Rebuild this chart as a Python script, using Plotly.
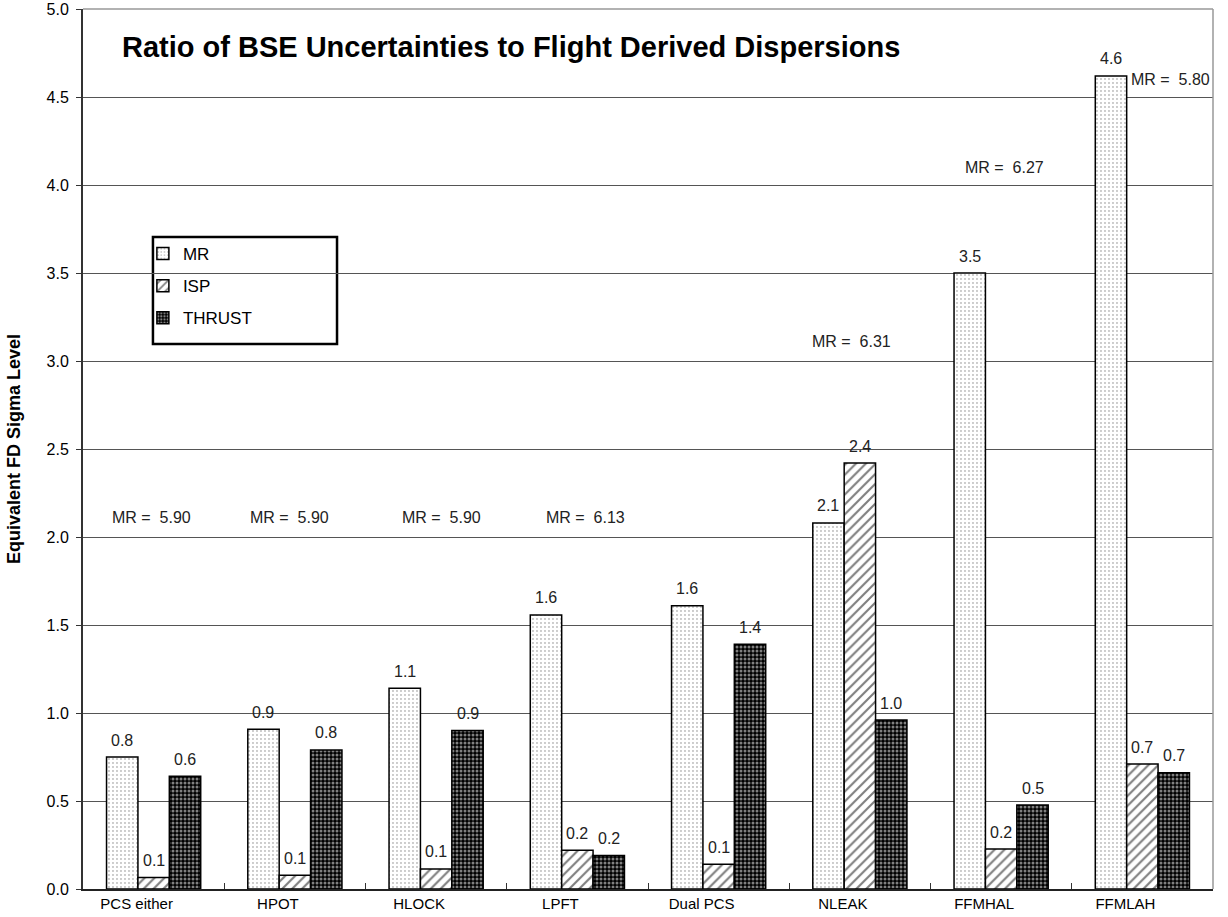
import plotly.graph_objects as go

categories = ["PCS either", "HPOT", "HLOCK", "LPFT", "Dual PCS", "NLEAK", "FFMHAL", "FFMLAH"]
mr_values = [0.75, 0.907, 1.14, 1.557, 1.61, 2.08, 3.5, 4.62]
isp_values = [0.065, 0.078, 0.114, 0.22, 0.14, 2.42, 0.227, 0.71]
thrust_values = [0.64, 0.79, 0.90, 0.19, 1.39, 0.96, 0.477, 0.66]
mr_notes = ["5.90", "5.90", "5.90", "6.13", None, "6.31", "6.27", "5.80"]

# styling / positioning (not data)
note_y = [2.11, 2.11, 2.11, 2.11, None, 3.11, 4.10, 4.60]
note_xshift = [-2, -5, 5, 8, 0, -8, 3, -13]
note_anchor = ["center"] * 7 + ["left"]
FONT = "Arial, Liberation Sans, sans-serif"

series = [
    ("MR", mr_values, dict(shape=".", fgcolor="#000000", bgcolor="#ffffff", size=4, solidity=0.1)),
    ("ISP", isp_values, dict(shape="/", fgcolor="#000000", bgcolor="#ffffff", size=7, solidity=0.3)),
    ("THRUST", thrust_values, dict(shape=".", fgcolor="#ffffff", bgcolor="#000000", size=4, solidity=0.45)),
]

fig = go.Figure()
for i, (name, vals, pat) in enumerate(series):
    fig.add_trace(go.Bar(
        x=categories, y=vals, name=name, legendgroup=name,
        marker=dict(color="#ffffff", line=dict(color="#000000", width=1.5), pattern=pat),
    ))

annotations = []
bar_px = 1130 / 8 * (2 / 3) / 3
for i, (name, vals, pat) in enumerate(series):
    for c, v in zip(categories, vals):
        annotations.append(dict(
            x=c, y=v, xref="x", yref="y", text=f"{v:.1f}", showarrow=False,
            xshift=(i - 1) * bar_px, yshift=17, yanchor="middle",
            font=dict(family=FONT, size=16, color="#222222"),
        ))

for c, note, ny, dx, anc in zip(categories, mr_notes, note_y, note_xshift, note_anchor):
    if note is None:
        continue
    annotations.append(dict(
        x=c, y=ny, xref="x", yref="y", text="MR =\u00a0\u00a0" + note, showarrow=False,
        xshift=dx, xanchor=anc, yanchor="middle",
        font=dict(family=FONT, size=16, color="#222222"),
    ))

annotations.append(dict(
    x=0.0327, y=0.957, xref="paper", yref="paper", xanchor="left", yanchor="middle",
    text="<b>Ratio of BSE Uncertainties to Flight Derived Dispersions</b>", showarrow=False,
    font=dict(family=FONT, size=29, color="#000000"),
))

fig.update_layout(
    width=1228, height=917,
    margin=dict(l=83, r=15, t=9, b=28, autoexpand=False),
    paper_bgcolor="#ffffff", plot_bgcolor="#ffffff",
    barmode="group", bargap=1 / 3, bargroupgap=0,
    font=dict(family=FONT, size=16, color="#000000"),
    annotations=annotations,
    showlegend=True,
    legend=dict(
        x=0.053, y=0.742, xanchor="left", yanchor="top",
        borderwidth=0, bgcolor="rgba(0,0,0,0)",
        font=dict(family=FONT, size=17, color="#000000"),
        tracegroupgap=7, itemwidth=30,
    ),
    xaxis=dict(
        type="category", showgrid=False, tickson="boundaries", ticks="inside", ticklen=6,
        tickcolor="#333333", showline=True, linecolor="#222222", linewidth=2,
        tickfont=dict(size=15), ticklabelshift=-17, automargin=False,
    ),
    yaxis=dict(
        range=[0, 5], dtick=0.5, tickformat=".1f", showgrid=True, gridcolor="#555555", gridwidth=1,
        ticks="outside", ticklen=5, tickcolor="#333333", showline=True, linecolor="#333333",
        linewidth=2, zeroline=False, tickfont=dict(size=16), automargin=False,
        ticklabelstandoff=4,
        title=dict(text="<b>Equivalent FD Sigma Level</b>", font=dict(size=18), standoff=21),
    ),
    shapes=[
        dict(type="line", xref="paper", yref="paper", x0=0, x1=1, y0=1, y1=1,
             line=dict(color="#999999", width=1.5), layer="above"),
        dict(type="line", xref="paper", yref="paper", x0=1, x1=1, y0=0, y1=1,
             line=dict(color="#999999", width=1.5), layer="above"),
        dict(type="rect", xref="paper", yref="paper", x0=0.0619, x1=0.2248, y0=0.6193, y1=0.7409,
             line=dict(color="#000000", width=2.5), fillcolor="#ffffff", layer="between"),
    ],
)

fig.write_html("out.html", config={"displayModeBar": False},
               post_script="document.body.style.margin='0';")
